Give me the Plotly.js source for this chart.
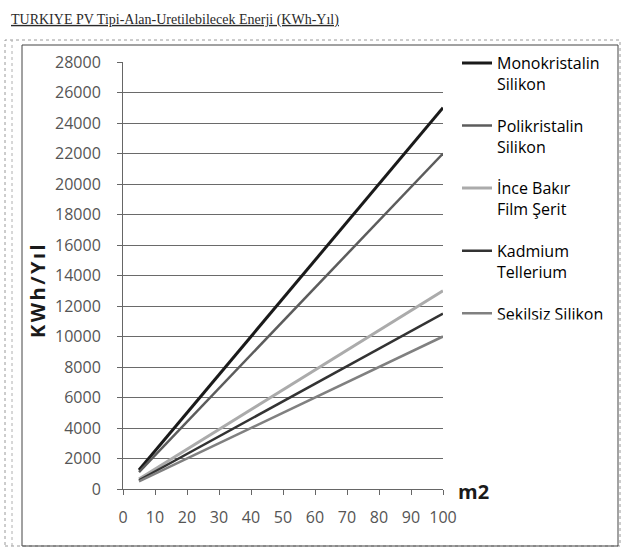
<!DOCTYPE html>
<html>
<head>
<meta charset="utf-8">
<script src="https://cdn.plot.ly/plotly-3.0.1.min.js"></script>
<style>
  html, body { margin: 0; padding: 0; background: #ffffff; }
  #chart { width: 622px; height: 547px; }
</style>
</head>
<body>
<div id="chart"></div>
<script>
// Panel area (m2) at the start and end of each series
const areaM2 = [5, 100];

// Yearly energy yield (KWh/Yıl) per PV type
const seriesNames = [
  'Monokristalin<br>Silikon',
  'Polikristalin<br>Silikon',
  'İnce Bakır<br>Film Şerit',
  'Kadmium<br>Tellerium',
  'Şekilsiz Silikon'
];
const monokristalin = [1250, 25000];
const polikristalin = [1100, 22000];
const inceBakir = [650, 13000];
const kadmium = [575, 11500];
const sekilsiz = [500, 10000];

const seriesValues = [monokristalin, polikristalin, inceBakir, kadmium, sekilsiz];
const lineColors = ['#1a1a1a', '#5c5c5c', '#ababab', '#333333', '#808080'];
const lineWidths = [3, 2.5, 3, 2.5, 2.5];

const yTicks = [0, 2000, 4000, 6000, 8000, 10000, 12000, 14000, 16000, 18000, 20000, 22000, 24000, 26000, 28000];
const xTicks = [0, 10, 20, 30, 40, 50, 60, 70, 80, 90, 100];

const traces = seriesNames.map((name, i) => ({
  type: 'scatter',
  mode: 'lines',
  name: name,
  legendgroup: 'g' + i,
  x: areaM2,
  y: seriesValues[i],
  line: { color: lineColors[i], width: lineWidths[i] },
  hoverinfo: 'skip'
}));

// plot area occupies pixels x 123..443, y 62..489
const L = 123, R = 443, T = 62, B = 489;
const px = v => (v - L) / (R - L);
const py = v => (B - v) / (B - T);

const tickFont = { family: 'Open Sans, sans-serif', size: 16, color: '#555555' };

const layout = {
  width: 622,
  height: 547,
  margin: { l: L, r: 622 - R, t: T, b: 547 - B, pad: 0 },
  paper_bgcolor: '#ffffff',
  plot_bgcolor: '#ffffff',
  title: {
    text: '<span style="text-decoration:underline">TURKIYE PV Tipi-Alan-Uretilebilecek Enerji (KWh-Yıl)</span>',
    font: { family: 'Liberation Serif, serif', size: 14, color: '#2a2a2a' },
    x: 11 / 622, xref: 'container', xanchor: 'left',
    y: 1 - 19 / 547, yref: 'container', yanchor: 'middle'
  },
  xaxis: {
    range: [0, 100],
    tickvals: xTicks,
    ticktext: xTicks.map(String),
    showgrid: false,
    zeroline: false,
    showline: true,
    linecolor: '#666666',
    linewidth: 1,
    ticks: 'outside',
    ticklen: 5,
    tickcolor: '#666666',
    tickfont: tickFont,
    ticklabelstandoff: 9,
    fixedrange: true
  },
  yaxis: {
    range: [0, 28000],
    tickvals: yTicks,
    ticktext: yTicks.map(String),
    showgrid: true,
    gridcolor: '#6a6a6a',
    gridwidth: 1,
    zeroline: false,
    showline: true,
    linecolor: '#666666',
    linewidth: 1,
    ticks: 'outside',
    ticklen: 5,
    tickcolor: '#666666',
    tickfont: tickFont,
    ticklabelstandoff: 13,
    fixedrange: true
  },
  showlegend: true,
  legend: {
    x: px(457), xanchor: 'left',
    y: py(46), yanchor: 'top',
    traceorder: 'grouped',
    tracegroupgap: 18,
    valign: 'top',
    bgcolor: 'rgba(0,0,0,0)',
    borderwidth: 0,
    font: { family: 'Open Sans, sans-serif', size: 16, color: '#000000' }
  },
  annotations: [
    {
      // value axis title
      text: '<b><span style="letter-spacing:2.5px">KWh/Yıl</span></b>',
      xref: 'paper', yref: 'paper',
      x: px(37), y: py(290),
      xanchor: 'center', yanchor: 'middle',
      textangle: -90,
      showarrow: false,
      font: { family: 'Open Sans, sans-serif', size: 20, color: '#1a1a1a' }
    },
    {
      text: '<b>m2</b>',
      xref: 'paper', yref: 'paper',
      x: px(456), y: py(491),
      xanchor: 'left', yanchor: 'middle',
      showarrow: false,
      font: { family: 'Open Sans, sans-serif', size: 20, color: '#1a1a1a' }
    }
  ],
  shapes: [
    // outer dotted chart frame
    { type: 'rect', xref: 'paper', yref: 'paper',
      x0: px(5), x1: px(620), y0: py(546), y1: py(40),
      line: { color: '#9a9a9a', width: 1, dash: 'dot' } },
    { type: 'line', xref: 'paper', yref: 'paper',
      x0: px(12), x1: px(12), y0: py(546), y1: py(40),
      line: { color: '#b0b0b0', width: 1, dash: 'dot' } },
    // inner chart border
    { type: 'rect', xref: 'paper', yref: 'paper',
      x0: px(22), x1: px(618), y0: py(546), y1: py(45),
      line: { color: '#444444', width: 1 } }
  ]
};

Plotly.newPlot('chart', traces, layout, { displayModeBar: false, staticPlot: true });
</script>
</body>
</html>
